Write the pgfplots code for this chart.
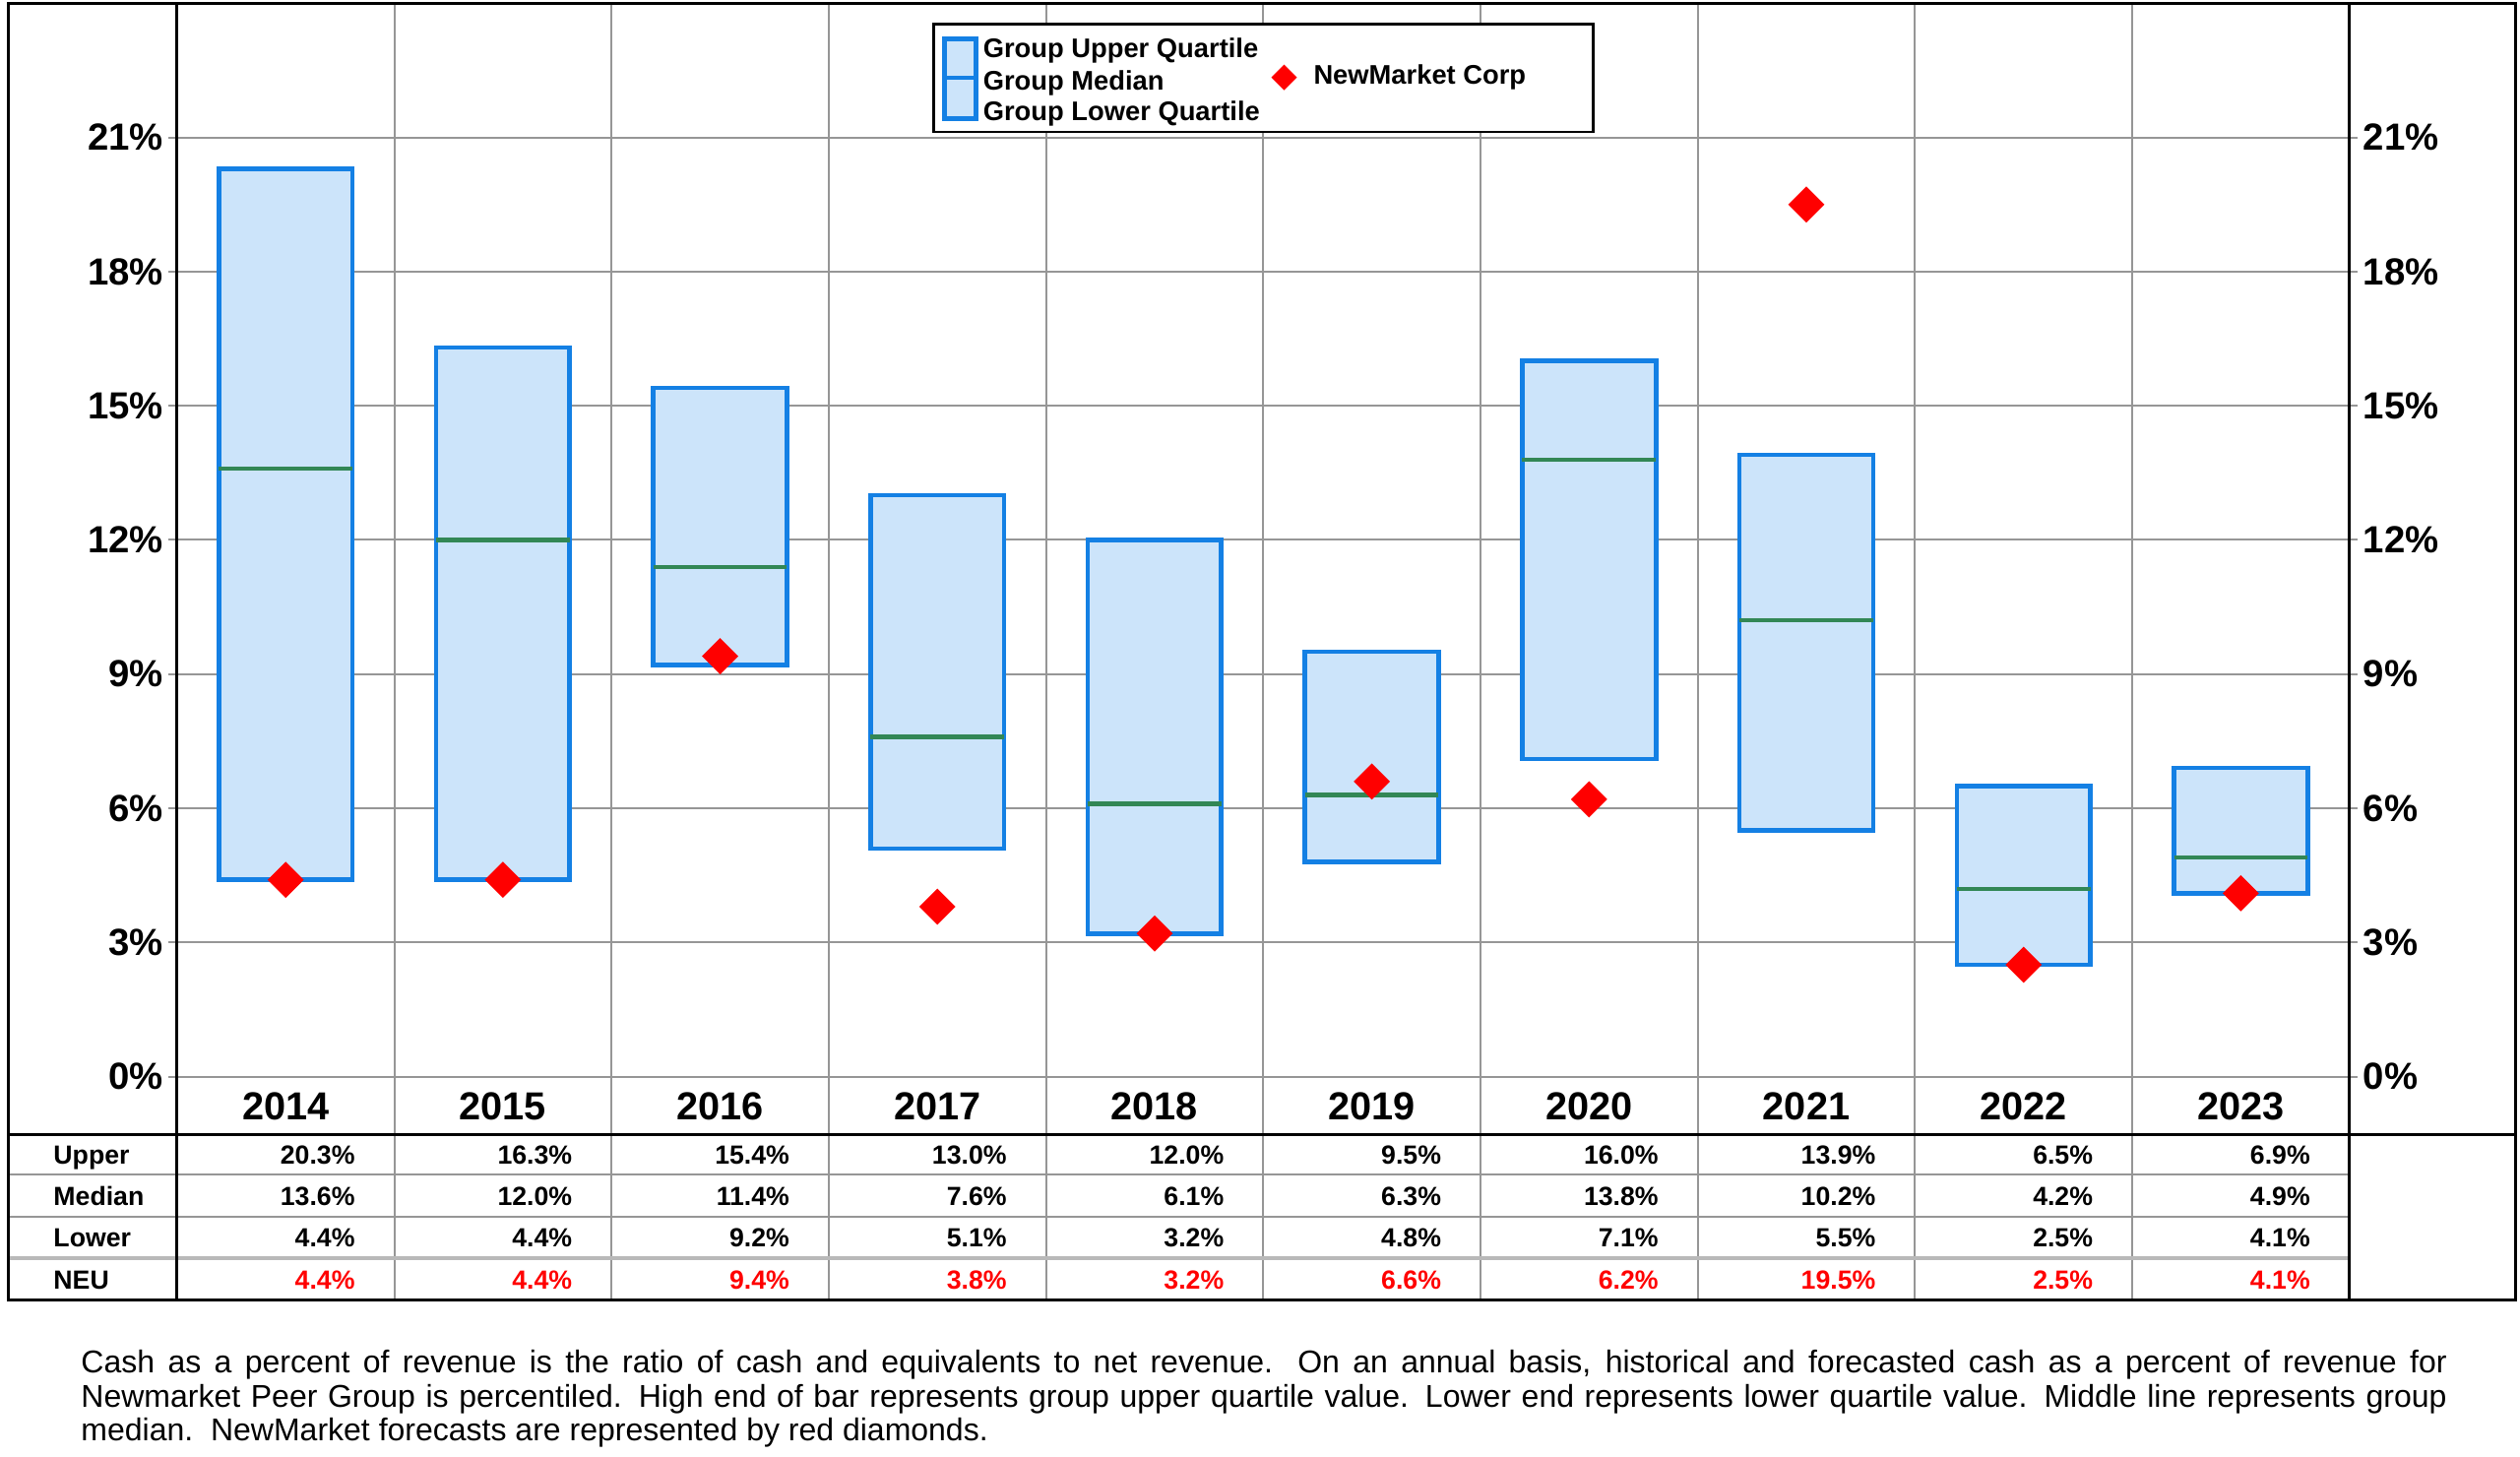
\documentclass[border=0pt]{standalone}
\usepackage{fontspec}
\setmainfont{Liberation Sans}
\usepackage{pgfplots}
\pgfplotsset{compat=1.18}
\usepgfplotslibrary{statistics}
\usepackage{pgfplotstable}

\definecolor{boxblue}{RGB}{20,128,228}
\definecolor{boxfill}{RGB}{204,228,250}
\definecolor{medgreen}{RGB}{50,135,85}
\definecolor{gridgray}{RGB}{150,150,150}
\definecolor{sepgray}{RGB}{185,185,185}

\newcommand{\tickfont}{\fontsize{11.5}{13}\selectfont\bfseries}
\newcommand{\yearfont}{\fontsize{11.9}{13}\selectfont\bfseries}
\newcommand{\tabfont}{\fontsize{8}{9.6}\selectfont\bfseries}
\newcommand{\legfont}{\fontsize{8.2}{9.8}\selectfont\bfseries}

% cash as % of revenue: peer quartiles and NewMarket (NEU)
\pgfplotstableread{
x year upper median lower neu
0 2014 20.3 13.6 4.4 4.4
1 2015 16.3 12.0 4.4 4.4
2 2016 15.4 11.4 9.2 9.4
3 2017 13.0 7.6 5.1 3.8
4 2018 12.0 6.1 3.2 3.2
5 2019 9.5 6.3 4.8 6.6
6 2020 16.0 13.8 7.1 6.2
7 2021 13.9 10.2 5.5 19.5
8 2022 6.5 4.2 2.5 2.5
9 2023 6.9 4.9 4.1 4.1
}\cashdata

% one box: position, lower quartile, median, upper quartile
\newcommand{\qbox}[4]{%
  \addplot[boxplot prepared={draw position=#1,
      lower whisker=#2, lower quartile=#2, median=#3,
      upper quartile=#4, upper whisker=#4}] coordinates {};}

\begin{document}
\begin{tikzpicture}
\begin{axis}[
  at={(0pt,0pt)}, anchor=south west,
  scale only axis, width=662.07pt, height=327.11pt,
  xmin=-0.5, xmax=9.5, ymin=0, ymax=24,
  clip=false,
  axis line style={draw=none},
  xtick=\empty,
  ytick={0,3,...,21}, ytick pos=left,
  yticklabel={\pgfmathprintnumber{\tick}\%},
  /pgf/number format/assume math mode=true,
  yticklabel style={font=\tickfont, inner xsep=1.5pt},
  tick align=outside, major tick length=2.5pt,
  tick style={gridgray, line width=0.6pt},
  ymajorgrids, major grid style={gridgray, line width=0.6pt},
  boxplot/draw direction=y,
  boxplot/box extend=0.615, boxplot/whisker extend=0,
  boxplot/every whisker/.style={draw=none},
  boxplot/every median/.style={draw=medgreen, line width=1.3pt},
  boxplot/every box/.style={draw=boxblue, fill=boxfill, line width=1.4pt},
]
\qbox{0}{4.4}{13.6}{20.3}
\qbox{1}{4.4}{12.0}{16.3}
\qbox{2}{9.2}{11.4}{15.4}
\qbox{3}{5.1}{7.6}{13.0}
\qbox{4}{3.2}{6.1}{12.0}
\qbox{5}{4.8}{6.3}{9.5}
\qbox{6}{7.1}{13.8}{16.0}
\qbox{7}{5.5}{10.2}{13.9}
\qbox{8}{2.5}{4.2}{6.5}
\qbox{9}{4.1}{4.9}{6.9}

\addplot[only marks, mark=square*, mark size=3.7pt, red,
  mark options={rotate=45, draw=red, fill=red}]
  table[x=x, y=neu]{\cashdata};

% year row and table rows
\addplot[draw=none, nodes near coords, point meta=explicit symbolic,
  every node near coord/.append style={anchor=base, inner sep=0pt, font=\yearfont, text=black}]
  table[x=x, y expr=-0.961, meta=year]{\cashdata};
\addplot[draw=none, point meta=explicit,
  nodes near coords={\pgfmathprintnumber[fixed, fixed zerofill, precision=1]{\pgfplotspointmeta}\%},
  every node near coord/.append style={anchor=base east, inner sep=0pt, xshift=21.3pt, font=\tabfont, text=black}]
  table[x=x, y expr=-1.955, meta=upper]{\cashdata};
\addplot[draw=none, point meta=explicit,
  nodes near coords={\pgfmathprintnumber[fixed, fixed zerofill, precision=1]{\pgfplotspointmeta}\%},
  every node near coord/.append style={anchor=base east, inner sep=0pt, xshift=21.3pt, font=\tabfont, text=black}]
  table[x=x, y expr=-2.873, meta=median]{\cashdata};
\addplot[draw=none, point meta=explicit,
  nodes near coords={\pgfmathprintnumber[fixed, fixed zerofill, precision=1]{\pgfplotspointmeta}\%},
  every node near coord/.append style={anchor=base east, inner sep=0pt, xshift=21.3pt, font=\tabfont, text=black}]
  table[x=x, y expr=-3.808, meta=lower]{\cashdata};
\addplot[draw=none, point meta=explicit,
  nodes near coords={\pgfmathprintnumber[fixed, fixed zerofill, precision=1]{\pgfplotspointmeta}\%},
  every node near coord/.append style={anchor=base east, inner sep=0pt, xshift=21.3pt, font=\tabfont, text=red}]
  table[x=x, y expr=-4.744, meta=neu]{\cashdata};
\end{axis}

% right-hand tick labels
\begin{axis}[
  at={(0pt,0pt)}, anchor=south west,
  scale only axis, width=662.07pt, height=327.11pt,
  xmin=-0.5, xmax=9.5, ymin=0, ymax=24,
  axis line style={draw=none},
  xtick=\empty,
  ytick={0,3,...,21}, ytick pos=right, yticklabel pos=right,
  yticklabel={\pgfmathprintnumber{\tick}\%},
  /pgf/number format/assume math mode=true,
  yticklabel style={font=\tickfont, inner xsep=1.5pt},
  tick align=outside, major tick length=2.5pt,
  tick style={gridgray, line width=0.6pt},
]
\end{axis}

% frame and table rules
\begin{scope}[x=66.207pt, y=13.630pt, xshift=33.103pt]
  \foreach \c in {0.5,1.5,...,8.5}
    \draw[gridgray, line width=0.6pt] (\c,-5.002) -- (\c,24);
  \foreach \r in {-2.195,-3.131}
    \draw[gridgray, line width=0.6pt] (-1.278,\r) -- (9.5,\r);
  \draw[sepgray, line width=1.2pt] (-1.278,-4.066) -- (9.5,-4.066);
  \draw[black, line width=0.8pt] (-1.278,-1.295) -- (10.263,-1.295);
  \draw[black, line width=0.8pt] (-0.5,-5.002) -- (-0.5,24);
  \draw[black, line width=0.8pt] (9.5,-5.002) -- (9.5,24);
  \draw[black, line width=0.9pt] (-1.278,-5.002) rectangle (10.263,24);
  \node[anchor=base west, inner sep=0pt, font=\tabfont] at (-1.071,-1.955) {Upper};
  \node[anchor=base west, inner sep=0pt, font=\tabfont] at (-1.071,-2.873) {Median};
  \node[anchor=base west, inner sep=0pt, font=\tabfont] at (-1.071,-3.808) {Lower};
  \node[anchor=base west, inner sep=0pt, font=\tabfont] at (-1.071,-4.744) {NEU};
\end{scope}

% legend
\draw[black, line width=0.8pt, fill=white] (230.5pt,287.9pt) rectangle (431.6pt,320.7pt);
\draw[boxblue, line width=1.4pt, fill=boxfill] (233.9pt,291.9pt) rectangle (243.5pt,316.2pt);
\draw[boxblue, line width=1.4pt] (233.9pt,304.4pt) -- (243.5pt,304.4pt);
\node[anchor=base west, inner sep=0pt, font=\legfont] at (245.5pt,310.6pt) {Group Upper Quartile};
\node[anchor=base west, inner sep=0pt, font=\legfont] at (245.5pt,300.6pt) {Group Median};
\node[anchor=base west, inner sep=0pt, font=\legfont] at (245.5pt,291.3pt) {Group Lower Quartile};
\fill[red] (337.4pt,304.5pt) +(0,3.9pt) -- +(3.9pt,0) -- +(0,-3.9pt) -- +(-3.9pt,0) -- cycle;
\node[anchor=base west, inner sep=0pt, font=\legfont] at (346.2pt,302.3pt) {NewMarket Corp};

% footnote
\node[anchor=north west, inner sep=0pt, text width=721pt, align=justify,
  font=\fontsize{9.6}{10.3}\selectfont] at (-29.4pt,-83.2pt)
  {Cash as a percent of revenue is the ratio of cash and equivalents to net revenue.  On an annual basis, historical and forecasted cash as a percent of revenue for\linebreak
  Newmarket Peer Group is percentiled.  High end of bar represents group upper quartile value.  Lower end represents lower quartile value.  Middle line represents group\linebreak
  median.\ \ NewMarket forecasts are represented by red diamonds.};

\pgfresetboundingbox
\useasboundingbox (-53.95pt,-115.88pt) rectangle (714.05pt,328.09pt);
\end{tikzpicture}
\end{document}
